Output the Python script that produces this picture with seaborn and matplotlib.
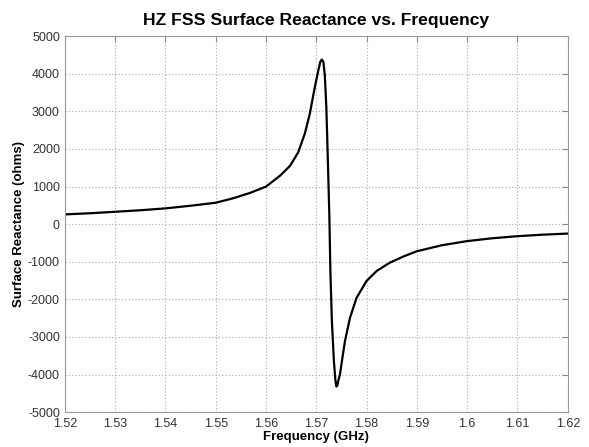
import numpy as np
import pandas as pd
import matplotlib
matplotlib.use("Agg")
import matplotlib.pyplot as plt
import seaborn as sns

# Values
freq_ghz = [1.52, 1.525, 1.53, 1.535, 1.54, 1.545, 1.55, 1.5535, 1.5568, 1.56,
            1.5628, 1.5648, 1.5664, 1.5677, 1.5687, 1.5697, 1.5704, 1.5708,
            1.5711, 1.5714, 1.5717, 1.5720, 1.5723, 1.5726, 1.5728, 1.5731,
            1.5735, 1.5738, 1.5740, 1.5742, 1.5744, 1.5747, 1.5752, 1.5757,
            1.5767, 1.5780, 1.58, 1.582, 1.5846, 1.5875, 1.59, 1.595, 1.60,
            1.605, 1.61, 1.615, 1.62]
reactance = [260, 290, 330, 370, 420, 490, 570, 690, 830, 1000,
             1290, 1555, 1910, 2400, 2930, 3640, 4090, 4320,
             4380, 4320, 3950, 3100, 1700, 200, -1245, -2580,
             -3645, -4150, -4320, -4280, -4150, -4000, -3550, -3110,
             -2490, -1960, -1510, -1245, -1025, -850, -720, -560, -450,
             -375, -320, -280, -250]

xticks = [1.52, 1.53, 1.54, 1.55, 1.56, 1.57, 1.58, 1.59, 1.6, 1.61, 1.62]
xtick_labels = ["1.52", "1.53", "1.54", "1.55", "1.56", "1.57", "1.58", "1.59", "1.6", "1.61", "1.62"]
yticks = [-5000, -4000, -3000, -2000, -1000, 0, 1000, 2000, 3000, 4000, 5000]

df = pd.DataFrame({"freq": freq_ghz, "x": reactance})

sns.set_style("white")
plt.rcParams["font.family"] = ["Liberation Sans", "DejaVu Sans"]
plt.rcParams["axes.unicode_minus"] = False

fig = plt.figure(figsize=(5.89, 4.47), dpi=100)
ax = fig.add_axes([0.110, 0.078, 0.854, 0.841])

sns.lineplot(data=df, x="freq", y="x", color="black", linewidth=1.6, ax=ax)

ax.set_xlim(1.52, 1.62)
ax.set_ylim(-5000, 5000)
ax.set_xticks(xticks)
ax.set_xticklabels(xtick_labels)
ax.set_yticks(yticks)
ax.set_yticklabels([str(v) for v in yticks])
ax.tick_params(direction="in", length=4, colors="#888888", labelcolor="#333333", labelsize=9,
               top=True, right=True)
ax.tick_params(axis="x", pad=4)

ax.grid(True, linestyle=(0, (1, 2)), color="#aaaaaa", linewidth=0.8)
for s in ax.spines.values():
    s.set_color("#999999")
    s.set_linewidth(0.8)

ax.set_title("HZ FSS Surface Reactance vs. Frequency", fontsize=12.6, fontweight="bold", pad=8, color="black")
ax.set_xlabel("Frequency (GHz)", fontsize=9.5, fontweight="bold", labelpad=1, color="black")
ax.set_ylabel("Surface Reactance (ohms)", fontsize=9.5, fontweight="bold", labelpad=2, color="black")

fig.savefig("out.png", dpi=100)
